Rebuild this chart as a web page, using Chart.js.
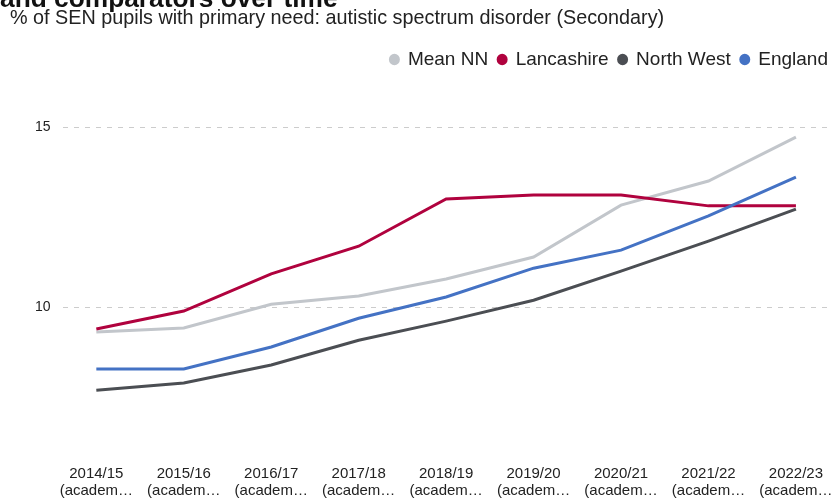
<!DOCTYPE html>
<html>
<head>
<meta charset="utf-8">
<script src="https://cdn.jsdelivr.net/npm/chart.js@4/dist/chart.umd.min.js"></script>
<style>
    html, body { margin: 0; padding: 0; background: #fff; overflow: hidden; }
    body { width: 831px; height: 500px; position: relative; font-family: Arial, "Liberation Sans", sans-serif; }
    #title { position: absolute; left: 0; top: -15px; font-size: 26.3px; line-height: 1; font-weight: bold; color: #111; white-space: nowrap; }
    #subtitle { position: absolute; left: 10px; top: 8px; font-size: 19.8px; line-height: 1; color: #222; white-space: nowrap; }
    #wrap { position: absolute; left: 0; top: 0; width: 831px; height: 500px; }
</style>
</head>
<body>
<div id="wrap"><canvas id="asdChart"></canvas></div>
<div id="title">and comparators over time</div>
<div id="subtitle">% of SEN pupils with primary need: autistic spectrum disorder (Secondary)</div>
<script>
// Academic years on the x axis
const years = ['2014/15', '2015/16', '2016/17', '2017/18', '2018/19', '2019/20', '2020/21', '2021/22', '2022/23'];
const yearSuffix = '(academ\u2026';

// % of SEN pupils with ASD as primary need (secondary)
const meanNN     = [9.31, 9.42, 10.08, 10.31, 10.78, 11.39, 12.83, 13.50, 14.72];
const lancashire = [9.39, 9.89, 10.92, 11.69, 13.00, 13.11, 13.11, 12.81, 12.81];
const northWest  = [7.69, 7.89, 8.39, 9.08, 9.61, 10.19, 11.00, 11.83, 12.72];
const england    = [8.28, 8.28, 8.89, 9.69, 10.28, 11.08, 11.58, 12.53, 13.61];

const yTicks = [10, 15];

function toPoints(values) {
    return values.map((v, i) => ({ x: i, y: v }));
}

function makeSet(label, values, colour) {
    return {
        label: label,
        data: toPoints(values),
        borderColor: colour,
        backgroundColor: colour,
        borderWidth: 3,
        borderCapStyle: 'butt',
        pointRadius: 0,
        pointHoverRadius: 0,
        tension: 0,
        fill: false
    };
}

const textColour = '#222';
const fontFamily = 'Arial, "Liberation Sans", sans-serif';

// Leave some room between the legend and the plot area
const legendGap = {
    id: 'legendGap',
    beforeInit(chart) {
        const fit = chart.legend.fit;
        chart.legend.fit = function() {
            fit.bind(chart.legend)();
            this.height += 12;
        };
    }
};

// England is listed first so it is painted on top; legend order is reversed back
new Chart(document.getElementById('asdChart'), {
    type: 'line',
    data: {
        datasets: [
            makeSet('England', england, '#4472c4'),
            makeSet('North West', northWest, '#4b4e53'),
            makeSet('Lancashire', lancashire, '#b0023e'),
            makeSet('Mean NN', meanNN, '#c2c6cb')
        ]
    },
    plugins: [legendGap],
    options: {
        responsive: true,
        maintainAspectRatio: false,
        animation: false,
        layout: {
            padding: { top: 40, left: 23, right: -7, bottom: -13 }
        },
        plugins: {
            legend: {
                position: 'top',
                align: 'end',
                reverse: true,
                labels: {
                    usePointStyle: true,
                    pointStyle: 'circle',
                    boxHeight: 6,
                    pointStyleWidth: 8,
                    padding: 10,
                    color: textColour,
                    font: { family: fontFamily, size: 19 }
                }
            },
            tooltip: { enabled: false }
        },
        scales: {
            x: {
                type: 'linear',
                min: -0.386,
                max: 8.401,
                grid: { display: false, drawTicks: false },
                border: { display: false },
                afterBuildTicks: function(axis) {
                    axis.ticks = years.map((_, i) => ({ value: i }));
                },
                // labels may hang past the plot edges
                afterFit: function(axis) {
                    axis.paddingLeft = 0;
                    axis.paddingRight = 0;
                },
                ticks: {
                    autoSkip: false,
                    maxRotation: 0,
                    padding: 14,
                    color: textColour,
                    font: { family: fontFamily, size: 15, lineHeight: 1.13 },
                    callback: function(value) {
                        return [years[value], yearSuffix];
                    }
                }
            },
            y: {
                min: 6,
                max: 16,
                grid: { color: '#cccccc', lineWidth: 1, drawTicks: false },
                border: { display: false, dash: [5, 6] },
                afterBuildTicks: function(axis) {
                    axis.ticks = yTicks.map(v => ({ value: v }));
                },
                ticks: {
                    padding: 12,
                    color: textColour,
                    font: { family: fontFamily, size: 14 }
                }
            }
        }
    }
});
</script>
</body>
</html>
